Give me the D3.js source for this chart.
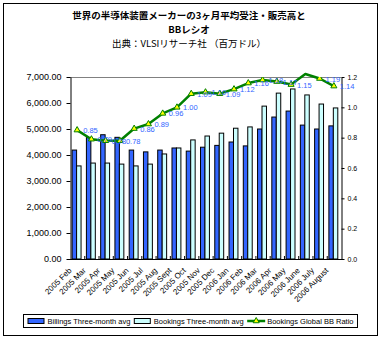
<!DOCTYPE html>
<html><head><meta charset="utf-8">
<script src="https://cdn.jsdelivr.net/npm/d3@7"></script>
<style>
html,body{margin:0;padding:0;background:#fff;}
svg{display:block;}
text{font-family:"Liberation Sans",Arial,sans-serif;}
</style></head>
<body>
<svg id="chart" width="381" height="341"></svg>
<script>
const categories = ["2005 Feb","2005 Mar","2005 Apr","2005 May","2005 Jun","2005 Jul","2005 Aug","2005 Sept","2005 Oct","2005 Nov","2005 Dec","2006 Jan","2006 Feb","2006 Mar","2006 Apr","2006 May","2006 June","2006 July","2006 August"];
const billings = [4190,4670,4780,4680,4190,4120,4190,4270,4150,4300,4370,4500,4350,5000,5460,5690,5150,5000,5120];
const bookings = [3580,3690,3690,3650,3580,3650,4040,4270,4580,4730,4840,5030,5080,5880,6380,6540,6310,5960,5810];
const bbRatio  = [0.85,0.79,0.78,0.78,0.86,0.89,0.96,1.00,1.09,1.10,1.09,1.12,1.16,1.18,1.17,1.15,1.22,1.19,1.14];
const leftTicks = [0,1000,2000,3000,4000,5000,6000,7000];
const rightTicks = [0,0.2,0.4,0.6,0.8,1.0,1.2];
const titleLines = ["世界の半導体装置メーカーの3ヶ月平均受注・販売高と","BBレシオ","出典：VLSIリサーチ社 （百万ドル）"];
const seriesNames = ["Billings  Three-month avg","Bookings  Three-month avg","Bookings Global BB Ratio"];

const svg = d3.select("#chart");
const L = 70, R = 341, T = 77, B = 259;
const blue = "#3366ff", cyan = "#ccffff", green = "#008000", labelBlue = "#3366ff";
const cjk = "'Noto Sans CJK JP',sans-serif";

// outer border
svg.append("rect").attr("x",3.5).attr("y",3.5).attr("width",374).attr("height",332)
  .attr("fill","#fff").attr("stroke","#000").attr("stroke-width",1);

// title
const tg = svg.append("g").attr("text-anchor","middle");
tg.append("text").attr("x",189).attr("y",19).attr("font-size",9.5).attr("font-weight","bold").style("font-family",cjk).text(titleLines[0]);
tg.append("text").attr("x",189).attr("y",33).attr("font-size",9.5).attr("font-weight","bold").style("font-family",cjk).text(titleLines[1]);
tg.append("text").attr("x",189).attr("y",47).attr("font-size",9.5).style("font-family",cjk).text(titleLines[2]);

const x = d3.scaleBand().domain(categories).range([L,R]).paddingInner(0).paddingOuter(0);
const xs = d3.scaleBand().domain(["billings","bookings"]).range([0,x.bandwidth()]).paddingInner(0).paddingOuter(0.6).align(0.4);
const yL = d3.scaleLinear().domain([0,7000]).range([B,T]);
const yR = d3.scaleLinear().domain([0,1.2]).range([B,T]);

// top gridline
svg.append("g").selectAll("line").data([7000]).join("line")
  .attr("x1",L).attr("x2",R).attr("y1",d=>yL(d)+0.5).attr("y2",d=>yL(d)+0.5)
  .attr("stroke","#808080").attr("stroke-width",1);

// bars
const bars = svg.append("g");
bars.selectAll("rect.bil").data(billings).join("rect").attr("class","bil")
  .attr("x",(d,i)=>x(categories[i])+xs("billings")).attr("y",d=>yL(d))
  .attr("width",xs.bandwidth()).attr("height",d=>B-yL(d))
  .attr("fill",blue).attr("stroke","#000").attr("stroke-width",1);
bars.selectAll("rect.boo").data(bookings).join("rect").attr("class","boo")
  .attr("x",(d,i)=>x(categories[i])+xs("bookings")).attr("y",d=>yL(d))
  .attr("width",xs.bandwidth()).attr("height",d=>B-yL(d))
  .attr("fill",cyan).attr("stroke","#000").attr("stroke-width",1);

// left axis
const ax = svg.append("g").attr("transform",`translate(${L+0.5},0)`)
  .call(d3.axisLeft(yL).tickValues(leftTicks).tickFormat(d3.format(",.2f")).tickSize(4).tickSizeOuter(0).tickPadding(5));
ax.selectAll("text").attr("font-size",9).attr("fill","#000").style("font-family","'Liberation Sans',Arial,sans-serif");
ax.selectAll("line,path").attr("stroke","#000");

// right axis
const ar = svg.append("g").attr("transform",`translate(${R+0.5},0)`)
  .call(d3.axisRight(yR).tickValues(rightTicks).tickFormat(d3.format(".1f")).tickSize(3).tickSizeOuter(0).tickPadding(3));
ar.selectAll("text").attr("font-size",7).attr("fill","#000").style("font-family","'Liberation Sans',Arial,sans-serif");
ar.selectAll("line,path").attr("stroke","#000");

// bottom axis
const xb = svg.append("g");
xb.append("line").attr("x1",L).attr("x2",R+1).attr("y1",B+0.5).attr("y2",B+0.5).attr("stroke","#000");
xb.selectAll("line.tk").data(categories.slice(1)).join("line").attr("class","tk")
  .attr("x1",d=>x(d)+0.5).attr("x2",d=>x(d)+0.5).attr("y1",B).attr("y2",B-3).attr("stroke","#000");
xb.selectAll("text").data(categories).join("text")
  .attr("transform",d=>`translate(${x(d)+x.bandwidth()/2-5},${B+12}) rotate(-45)`)
  .attr("text-anchor","end").attr("font-size",8).attr("fill","#000").text(d=>d);

// BB ratio line
const cx = i => x(categories[i]) + x.bandwidth()/2;
svg.append("path").datum(bbRatio)
  .attr("d", d3.line().x((d,i)=>cx(i)).y(d=>yR(d)))
  .attr("fill","none").attr("stroke",green).attr("stroke-width",2.5).attr("stroke-linejoin","round");

svg.append("clipPath").attr("id","plotclip").append("rect").attr("x",L-10).attr("y",T).attr("width",R-L+30).attr("height",B-T);
const mk = svg.append("g").attr("clip-path","url(#plotclip)");
mk.selectAll("path").data(bbRatio).join("path")
  .attr("transform",(d,i)=>`translate(${cx(i)},${yR(d)})`)
  .attr("d", d3.symbol(d3.symbolTriangle).size(16))
  .attr("fill","#ffff00").attr("stroke",green).attr("stroke-width",1);

// data labels (right of point)
svg.append("g").selectAll("text").data(bbRatio.map((v,i)=>({v,i})).filter(d=>d.v<=yR.domain()[1]))
  .join("text")
  .attr("x",d=>cx(d.i)+6).attr("y",d=>yR(d.v)+3)
  .attr("font-size",7.5).attr("fill",labelBlue)
  .text(d=>d3.format(".2f")(d.v));

// legend: sequential layout, spread across box
const lg = svg.append("g");
const boxX = 23.5, boxW = 334, boxY = 314.5, boxH = 13, midY = 321;
lg.append("rect").attr("x",boxX).attr("y",boxY).attr("width",boxW).attr("height",boxH).attr("fill","#fff").attr("stroke","#000");
const items = seriesNames.map((name,i)=>{
  const g = lg.append("g");
  if (i < 2) {
    g.append("rect").attr("x",0.5).attr("y",midY-2.5).attr("width",16).attr("height",5)
      .attr("fill", i===0 ? blue : cyan).attr("stroke","#000");
  } else {
    g.append("line").attr("x1",0).attr("x2",18).attr("y1",midY).attr("y2",midY).attr("stroke",green).attr("stroke-width",2.5);
    g.append("path").attr("transform",`translate(9,${midY})`).attr("d",d3.symbol(d3.symbolTriangle).size(16)).attr("fill","#ffff00").attr("stroke",green);
  }
  const t = g.append("text").attr("x",20).attr("y",midY+3).attr("font-size",7.5).attr("fill","#000").text(name);
  return {g, w: 20 + t.node().getComputedTextLength()};
});
const totalW = d3.sum(items, d=>d.w);
const gap = (boxW - 8 - totalW) / (items.length - 1);
let cur = boxX + 4;
items.forEach(it=>{ it.g.attr("transform",`translate(${cur},0)`); cur += it.w + gap; });
</script>
</body></html>
